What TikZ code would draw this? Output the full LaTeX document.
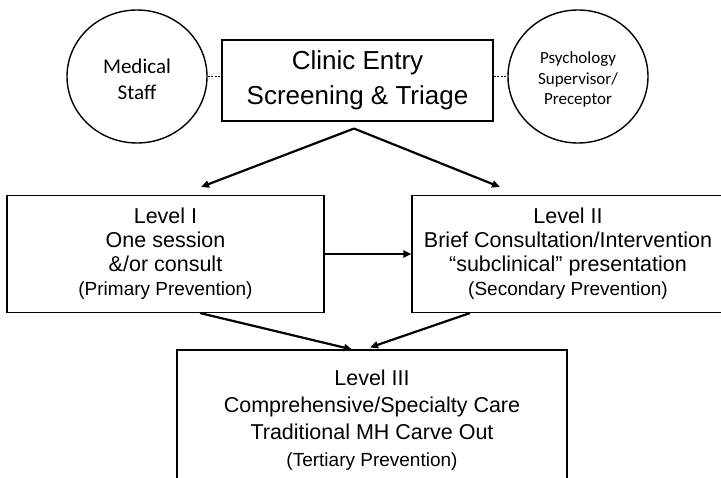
\documentclass[tikz,border=0pt]{standalone}
\usepackage{fontspec}
\setmainfont{Liberation Sans}
\newfontfamily\calib{Carlito}
\usetikzlibrary{shapes.geometric,arrows.meta,calc}
\begin{document}
\begin{tikzpicture}[x=1pt,y=-1pt,
  box/.style={draw,line width=1.1pt,rectangle,inner sep=0pt,align=center},
  oval/.style={draw,line width=1.4pt,ellipse,inner sep=0pt,minimum width=140pt,minimum height=133pt},
  ovaltext/.style={inner sep=0pt,align=center},
  arr/.style={line width=2.2pt,-{Triangle[length=8pt,width=7pt]}},
  link/.style={line width=0.7pt,dash pattern=on 2pt off 1.5pt},
  lvl/.style={font=\fontsize{21.5}{24}\selectfont}]
\useasboundingbox (0,0) rectangle (721,478);
\clip (0,0) rectangle (721,478);
\fill[white] (0,0) rectangle (721,478);

\node[box,minimum width=271pt,minimum height=81pt,font=\fontsize{26}{35}\selectfont] (clinic) at (357.5,80.5) {Clinic Entry\\Screening \& Triage};
\node[oval] (med) at (137,76.5) {};
\node[ovaltext,font=\calib\fontsize{21}{26}\selectfont] (medt) at (137,79) {Medical\\Staff};
\node[oval] (psy) at (578,76.5) {};
\node[ovaltext,font=\calib\fontsize{17}{20.5}\selectfont] (psyt) at (578,79.5) {Psychology\\Supervisor/\\Preceptor};

\draw[link] (med.east) -- (med.east -| clinic.west);
\draw[link] (psy.west -| clinic.east) -- (psy.west);

\node[box,lvl,minimum width=317pt,minimum height=117pt] (l1) at (165.5,254) {Level I\\One session\\\&/or consult\\{\fontsize{19}{24}\selectfont (Primary Prevention)}};
\node[box,lvl,minimum width=312pt,minimum height=117pt] (l2) at (568,254) {Level II\\Brief Consultation/Intervention\\“subclinical” presentation\\{\fontsize{19}{24}\selectfont (Secondary Prevention)}};
\node[box,font=\fontsize{21.5}{27}\selectfont,minimum width=390pt,minimum height=140pt] (l3) at (372,420) {Level III\\Comprehensive/Specialty Care\\Traditional MH Carve Out\\{\fontsize{19}{26}\selectfont (Tertiary Prevention)}};

\coordinate (apex) at ([xshift=-3.5pt,yshift=-7pt]clinic.south);
\coordinate (tl) at (201,187);
\coordinate (tr) at (500,187);
\draw[arr] (apex) -- (tl);
\draw[arr] (apex) -- (tr);
\draw[arr] (l1.east) -- (l2.west);
\draw[arr] ([xshift=34.5pt]l1.south) -- ([xshift=-20pt]l3.north);
\draw[arr] ([xshift=-98pt]l2.south) -- ([xshift=-2pt,yshift=2pt]l3.north);
\end{tikzpicture}
\end{document}
